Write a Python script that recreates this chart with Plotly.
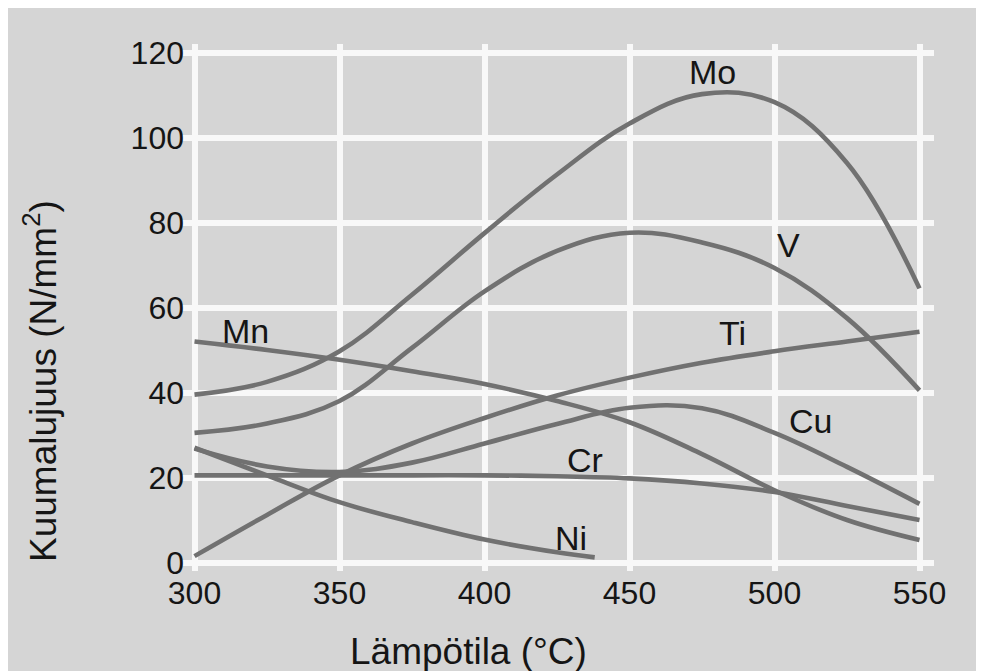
import plotly.graph_objects as go

# ---- data ----
temps = [300, 325, 350, 375, 400, 425, 450, 475, 500, 525, 550]
mo = [39.5, 42.5, 49.7, 63.0, 77.5, 91.3, 103.3, 110.2, 108.3, 94.0, 64.5]
v = [30.5, 32.7, 38.0, 50.5, 63.8, 73.3, 77.6, 75.3, 69.3, 57.5, 40.5]
ti = [1.5, 11.2, 20.5, 28.0, 34.0, 39.3, 43.5, 47.0, 49.7, 52.0, 54.3]
cu = [26.8, 22.6, 21.3, 23.5, 28.0, 32.6, 36.4, 36.3, 30.5, 22.5, 13.8]
cr = [20.5, 20.5, 20.5, 20.5, 20.5, 20.3, 19.8, 18.6, 16.6, 13.3, 10.0]
mn = [52.0, 50.0, 47.7, 45.0, 42.0, 38.0, 33.0, 25.5, 17.0, 10.0, 5.3]
ni_temps = [300, 325, 350, 375, 400, 425, 438]
ni = [27.0, 20.5, 14.2, 9.5, 5.4, 2.4, 1.2]

series_names = ["Mo", "V", "Ti", "Cu", "Cr", "Mn", "Ni"]
label_x = [478.6, 504.8, 485.4, 512.4, 434.8, 317.6, 429.7]
label_y = [115.5, 74.8, 54.0, 33.2, 24.2, 54.4, 5.8]

x_ticks = [300, 350, 400, 450, 500, 550]
y_ticks = [0, 20, 40, 60, 80, 100, 120]
x_title = "Lämpötila (°C)"
y_title = "Kuumalujuus (N/mm<sup>2</sup>)"

# ---- style ----
W, H = 1000, 690
ML, MT = 172, 36
PW, PH = 754, 527
MR, MB = W - ML - PW, H - MT - PH
BG = "#d5d5d5"
GRID = "#f8f8f8"
LINE = "#717171"
TXT = "#151515"
FONT = "Liberation Sans, Arial, sans-serif"


def px_x(p):
    return (p - ML) / PW


def px_y(p):
    return (MT + PH - p) / PH


fig = go.Figure()
all_series = [
    (temps, mo), (temps, v), (temps, ti), (temps, cu),
    (temps, cr), (temps, mn), (ni_temps, ni),
]
for name, (xs, ys) in zip(series_names, all_series):
    fig.add_trace(go.Scatter(
        x=xs, y=ys, mode="lines", name=name,
        line=dict(color=LINE, width=4.6, shape="spline", smoothing=1.1),
        showlegend=False, hoverinfo="x+y+name",
    ))

annotations = []
for name, lx, ly in zip(series_names, label_x, label_y):
    annotations.append(dict(
        x=lx, y=ly, xref="x", yref="y", text=name, showarrow=False,
        font=dict(family=FONT, size=34, color=TXT),
        xanchor="center", yanchor="middle",
    ))

annotations.append(dict(
    x=px_x(460.5), y=px_y(643), xref="paper", yref="paper", text=x_title,
    showarrow=False, font=dict(family=FONT, size=37, color=TXT),
    xanchor="center", yanchor="middle",
))
annotations.append(dict(
    x=px_x(33), y=px_y(373), xref="paper", yref="paper", text=y_title,
    showarrow=False, textangle=-90, font=dict(family=FONT, size=37, color=TXT),
    xanchor="center", yanchor="middle",
))

fig.update_layout(
    width=W, height=H,
    margin=dict(l=ML, r=MR, t=MT, b=MB, pad=0),
    paper_bgcolor=BG, plot_bgcolor=BG,
    font=dict(family=FONT, size=32, color=TXT),
    annotations=annotations,
    xaxis=dict(
        range=[295, 555], tickvals=x_ticks, ticktext=[str(t) for t in x_ticks],
        showgrid=True, gridcolor=GRID, gridwidth=6, zeroline=False,
        showline=False, ticks="", tickfont=dict(size=32, color=TXT, family=FONT),
        ticklabelstandoff=0, fixedrange=True,
    ),
    yaxis=dict(
        range=[-2, 122], tickvals=y_ticks, ticktext=[str(t) for t in y_ticks],
        showgrid=True, gridcolor=GRID, gridwidth=6, zeroline=False,
        showline=False, ticks="", tickfont=dict(size=32, color=TXT, family=FONT),
        ticklabelstandoff=-5, fixedrange=True,
    ),
)

fig.write_html("out.html")
